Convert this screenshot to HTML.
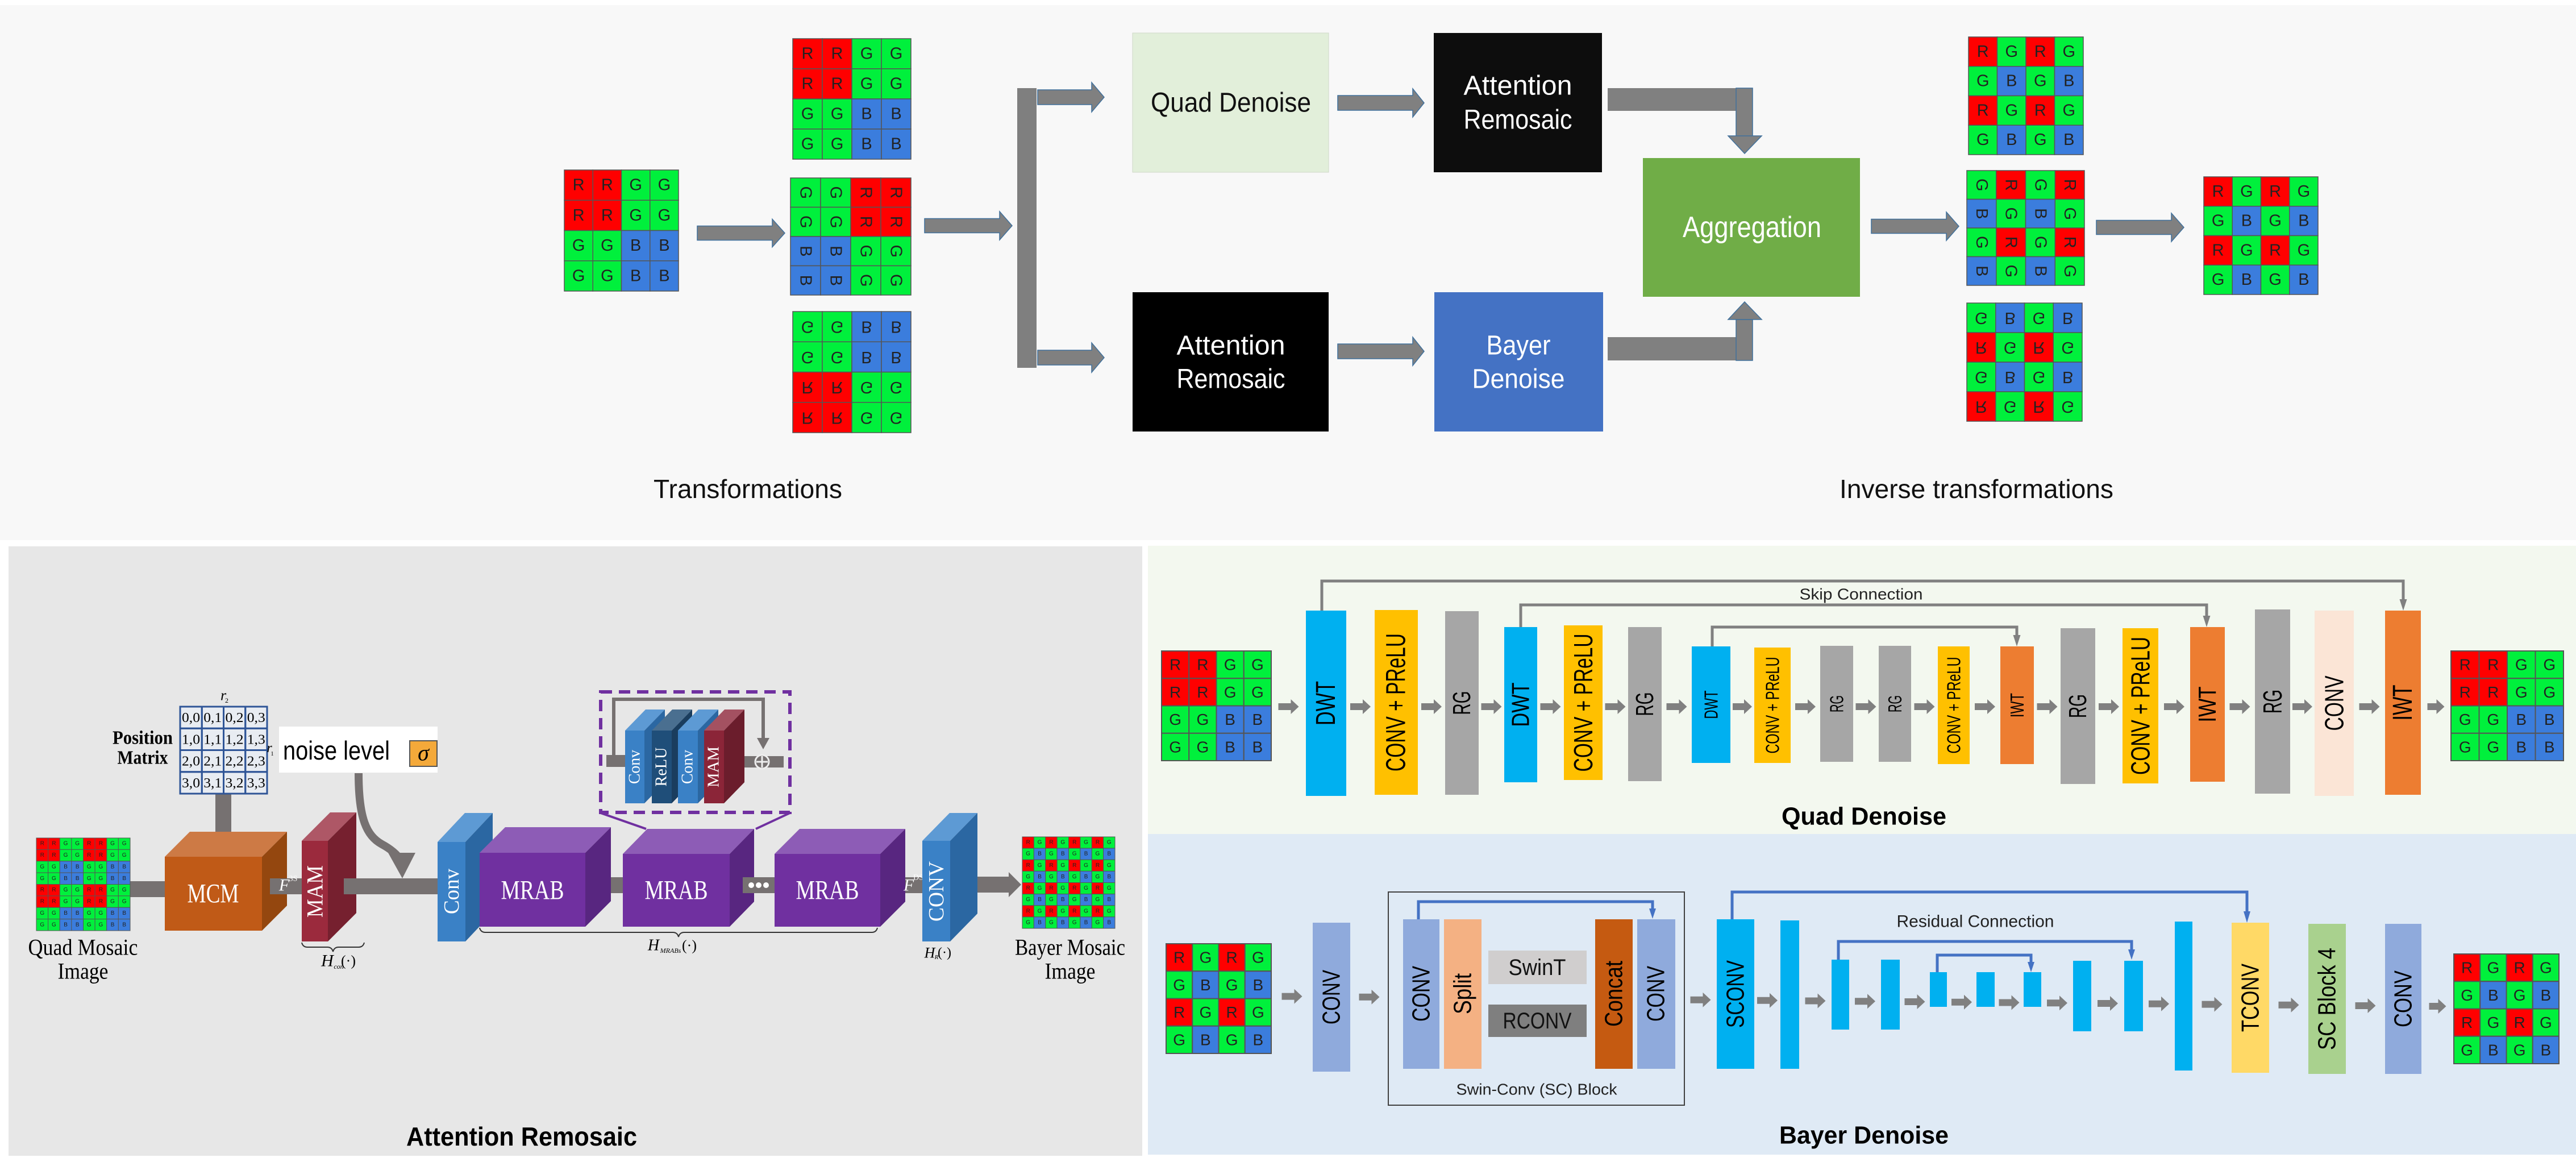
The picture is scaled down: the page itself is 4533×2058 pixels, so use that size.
<!DOCTYPE html>
<html><head><meta charset="utf-8"><style>
html,body{margin:0;padding:0;background:#fff;width:4533px;height:2058px;overflow:hidden}
svg{display:block}
</style></head><body>
<svg id="c" xmlns="http://www.w3.org/2000/svg" width="4533" height="2058" viewBox="0 0 4533 2058"></svg>
<script>
let s='';
const R=(x,y,w,h,f,st,sw)=>{s+=`<rect x="${x}" y="${y}" width="${w}" height="${h}" fill="${f}"${st?` stroke="${st}" stroke-width="${sw}"`:''}/>`;};
const P=(pts,f,st,sw)=>{s+=`<polygon points="${pts}" fill="${f}"${st?` stroke="${st}" stroke-width="${sw}"`:''}/>`;};
const T=(x,y,t,fs,o={})=>{let a=`x="${x}" y="${y}" font-size="${fs}" text-anchor="${o.anchor||'middle'}" dominant-baseline="central" fill="${o.fill||'#000'}" font-family="${o.ff||'Liberation Sans, sans-serif'}"`;
 if(o.w)a+=` textLength="${o.w}" lengthAdjust="spacingAndGlyphs"`; if(o.b)a+=' font-weight="bold"'; if(o.i)a+=' font-style="italic"';
 if(o.rot)a+=` transform="rotate(-90 ${x} ${y})"`; if(o.tr)a+=` transform="${o.tr}"`; s+=`<text ${a}>${t}</text>`;};
const SER='Liberation Serif, serif';
const C={R:'#ff0000',G:'#00f03c',B:'#3b7ddd'};
function grid(x,y,w,h,rows,mode,fs,sw){const n=rows.length,m=rows[0].length,cw=w/m,ch=h/n;
 rows.forEach((r,i)=>[...r].forEach((c,j)=>{const cx=x+j*cw,cy=y+i*ch;R(cx,cy,cw,ch,C[c],'#555',sw||1.5);
  const mx=cx+cw/2,my=cy+ch/2;let tr='';
  if(mode=='rot')tr=`rotate(90 ${mx} ${my})`; if(mode=='flip')tr=`translate(${mx} ${my}) scale(1 -1) translate(${-mx} ${-my})`;
  T(mx,my,c,fs,{fill:'#222',tr:tr||undefined});}));}
function arR(x1,x2,y,sh,hh,hl,f,st){const t=y-sh/2,b=y+sh/2;P(`${x1},${t} ${x2-hl},${t} ${x2-hl},${y-hh/2} ${x2},${y} ${x2-hl},${y+hh/2} ${x2-hl},${b} ${x1},${b}`,f||'#808080',st===undefined?'#41719c':st,1.5);}
// panels
R(0,9,4533,941,'#f8f8f8');
R(15,961,1995,1072,'#e7e7e7');
R(2020,960,2513,507,'#f3f8ef');
R(2020,1467,2513,564,'#dfeaf5');
// ===== TOP PANEL =====
const Q=['RRGG','RRGG','GGBB','GGBB'];
grid(993,299,201,213,Q,'',29);
grid(1395,68,208,212,Q,'',29);
grid(1391,313,212,206,['GGRR','GGRR','BBGG','BBGG'],'rot',29);
grid(1395,548,208,213,['GGBB','GGBB','RRGG','RRGG'],'flip',29);
arR(1227,1381,410,25,49,22);
arR(1627,1781,397,25,50,22);
R(1790,155,34,492,'#7f7f7f');
arR(1826,1943,171,26,52,22);
arR(1826,1943,629,26,52,22);
R(1993,58,345,245,'#e2efda','#cfd8c8',1);
T(2166,181,'Quad Denoise',48,{w:282,fill:'#111'});
R(1993,514,345,245,'#000');
T(2166,608,'Attention',48,{w:191,fill:'#fff'});T(2166,667,'Remosaic',48,{w:191,fill:'#fff'});
arR(2354,2506,181,26,50,20);
arR(2354,2506,618,26,50,20);
R(2523,58,296,245,'#0d0d0d');
T(2671,151,'Attention',48,{w:191,fill:'#fff'});T(2671,211,'Remosaic',48,{w:191,fill:'#fff'});
R(2524,514,297,245,'#4472c4');
T(2672,608,'Bayer',48,{w:113,fill:'#fff'});T(2672,667,'Denoise',48,{w:163,fill:'#fff'});
R(2829,155,255,40,'#808080');R(3055,155,29,85,'#808080','#41719c',1.5);P('3041,239 3100,239 3070,270','#808080','#41719c',1.5);
R(2829,593,255,41,'#808080');R(3055,562,29,72,'#808080','#41719c',1.5);P('3041,562 3100,562 3070,531','#808080','#41719c',1.5);
R(2891,278,382,244,'#70ad47');
T(3083,400,'Aggregation',52,{w:244,fill:'#fff'});
arR(3293,3447,398,25,50,22);
grid(3464,65,202,207,['RGRG','GBGB','RGRG','GBGB'],'',29);
grid(3461,300,207,202,['GRGR','BGBG','GRGR','BGBG'],'rot',29);
grid(3461,533,203,208,['GBGB','RGRG','GBGB','RGRG'],'flip',29);
arR(3689,3843,400,25,50,22);
grid(3878,311,201,207,['RGRG','GBGB','RGRG','GBGB'],'',29);
T(1316,860,'Transformations',46,{w:332,fill:'#111'});
T(3478,860,'Inverse transformations',46,{w:482,fill:'#111'});
// ===== QUAD DENOISE =====
grid(2044,1145,193,193,Q,'',28,2);
grid(4313,1145,198,193,Q,'',28,2);
const blu='#00b0f0',yel='#ffc000',gry='#a6a6a6',org='#ed7d31';
const qd=[[2298,2369,1074,1400,blu,'DWT',48,78],[2419,2495,1073,1398,yel,'CONV + PReLU',48,243],[2543,2602,1075,1398,gry,'RG',44,42],
[2647,2705,1103,1376,blu,'DWT',44,78],[2752,2820,1100,1372,yel,'CONV + PReLU',46,243],[2865,2924,1103,1374,gry,'RG',44,42],
[2977,3045,1137,1342,blu,'DWT',33,50],[3087,3151,1139,1342,yel,'CONV + PReLU',33,170],[3203,3261,1136,1340,gry,'RG',33,30],
[3306,3363,1136,1340,gry,'RG',33,30],[3410,3466,1137,1344,yel,'CONV + PReLU',33,170],[3520,3579,1137,1344,org,'IWT',33,43],
[3626,3687,1105,1379,gry,'RG',44,42],[3735,3798,1105,1378,yel,'CONV + PReLU',46,243],[3854,3915,1103,1375,org,'IWT',44,63],
[3968,4030,1072,1396,gry,'RG',46,42],[4073,4142,1074,1400,'#fbe5d6','CONV',46,97],[4197,4260,1074,1398,org,'IWT',48,63]];
let prev=2237;
qd.forEach(b=>{const g=b[0]-prev;const w=Math.min(g-8,36);if(w>10)arR(prev+(g-w)/2,prev+(g+w)/2,1243,12,26,14,'#808080','');
 R(b[0],b[2],b[1]-b[0],b[3]-b[2],b[4]);T((b[0]+b[1])/2,(b[2]+b[3])/2,b[5],b[6],{w:b[7],rot:1});prev=b[1];});
{const g=4313-prev,w=30;arR(prev+(g-w)/2,prev+(g+w)/2,1243,12,26,14,'#808080','');}
const line=(pts,c,w)=>{s+=`<polyline points="${pts}" fill="none" stroke="${c}" stroke-width="${w}"/>`;};
const hd=(x,y,c,w,h)=>P(`${x-w/2},${y-h} ${x+w/2},${y-h} ${x},${y}`,c);
line('2326,1074 2326,1022 4229,1022 4229,1056','#808080',5);hd(4229,1074,'#808080',13,20);
line('2676,1103 2676,1064 3883,1064 3883,1085','#808080',5);hd(3883,1103,'#808080',13,20);
line('3013,1137 3013,1103 3549,1103 3549,1120','#808080',5);hd(3549,1137,'#808080',13,20);
T(3275,1045,'Skip Connection',28,{w:217,fill:'#222'});
T(3280,1436,'Quad Denoise',44,{w:290,b:1});
// ===== BAYER DENOISE =====
const BY=['RGRG','GBGB','RGRG','GBGB'];
grid(2052,1660,185,193,BY,'',28,2);
grid(4318,1678,185,193,BY,'',28,2);
const cv='#8faadc';
const bd=[[2310,2376,1623,1885,cv,'CONV',44,96],[2443,2964,0,0,null],[3021,3087,1617,1880,blu,'SCONV',44,119],[3133,3166,1619,1880,blu],
[3223,3254,1688,1811,blu],[3310,3343,1688,1811,blu],[3396,3426,1710,1771,blu],[3478,3510,1710,1771,blu],[3561,3592,1710,1771,blu],
[3648,3680,1690,1814,blu],[3738,3771,1690,1814,blu],[3827,3858,1621,1883,blu],[3927,3993,1623,1887,'#ffd966','TCONV',44,120],
[4062,4128,1625,1889,'#a9d18e','SC Block 4',44,180],[4197,4261,1625,1889,cv,'CONV',44,100]];
prev=2237;
bd.forEach(b=>{const g=b[0]-prev;const w=Math.min(g-6,36);const y=1752+(b[0]-2237)/2080*18;if(w>10)arR(prev+(g-w)/2,prev+(g+w)/2,y,12,26,14,'#808080','');
 if(b[4]){R(b[0],b[2],b[1]-b[0],b[3]-b[2],b[4]);if(b[5])T((b[0]+b[1])/2,(b[2]+b[3])/2,b[5],b[6],{w:b[7],rot:1});}prev=b[1];});
{const g=4318-prev,w=30;arR(prev+(g-w)/2,prev+(g+w)/2,1770,12,26,14,'#808080','');}
R(2443,1569,521,375,'none','#404040',2);
R(2469,1617,64,263,cv);T(2501,1748,'CONV',44,{w:98,rot:1});
R(2541,1617,66,263,'#f4b183');T(2574,1748,'Split',44,{w:72,rot:1});
R(2619,1672,173,59,'#d0cece');T(2705,1702,'SwinT',40,{w:101,fill:'#111'});
R(2619,1767,173,57,'#7f7f7f');T(2705,1796,'RCONV',40,{w:121,fill:'#111'});
R(2807,1617,66,263,'#c55a11');T(2840,1748,'Concat',44,{w:116,rot:1});
R(2881,1617,67,263,cv);T(2914,1748,'CONV',44,{w:98,rot:1});
const bl='#4472c4';
line('2496,1617 2496,1586 2908,1586 2908,1600',bl,5);hd(2908,1616,bl,12,18);
line('3048,1617 3048,1569 3954,1569 3954,1605',bl,5);hd(3954,1623,bl,12,20);
line('3235,1688 3235,1656 3751,1656 3751,1672',bl,5);hd(3751,1688,bl,12,18);
line('3409,1710 3409,1680 3574,1680 3574,1694',bl,5);hd(3574,1710,bl,12,18);
T(3476,1621,'Residual Connection',30,{w:277,fill:'#222'});
T(2704,1916,'Swin-Conv (SC) Block',28,{w:283,fill:'#222'});
T(3280,1997,'Bayer Denoise',44,{w:298,b:1});
// ===== ATTENTION REMOSAIC =====
const QM=['RRGGRRGG','RRGGRRGG','GGBBGGBB','GGBBGGBB','RRGGRRGG','RRGGRRGG','GGBBGGBB','GGBBGGBB'];
const BM=[];for(let i=0;i<4;i++){BM.push('RGRGRGRG','GBGBGBGB');}
R(229,1550,61,28,'#767171');
grid(64,1474,165,163,QM,'',10,1);
T(146,1666,'Quad Mosaic',40,{w:193,ff:SER});T(146,1708,'Image',40,{w:89,ff:SER});
function slab(x,y,w,h,dx,dy,fr,tp,sd){P(`${x},${y} ${x+dx},${y-dy} ${x+w+dx},${y-dy} ${x+w},${y}`,tp);P(`${x+w},${y} ${x+w+dx},${y-dy} ${x+w+dx},${y+h-dy} ${x+w},${y+h}`,sd);R(x,y,w,h,fr);}
R(379,1397,28,84,'#767171');
slab(290,1507,171,130,44,44,'#c05a17','#cd7a45','#94470f');
T(375,1572,'MCM',48,{w:91,fill:'#fff',ff:SER});
R(317,1243,153,153,'#e8ecf2');
for(let i=0;i<4;i++)for(let j=0;j<4;j++){R(317+j*38.25,1243+i*38.25,38.25,38.25,'none','#2f5597',3);T(317+j*38.25+19,1243+i*38.25+20,`${i},${j}`,24,{w:32,ff:SER});}
T(393,1223,'r',26,{ff:SER,i:1});T(399,1232,'2',12,{ff:SER});
T(474,1316,'r',24,{ff:SER,i:1});T(479,1326,'1',11,{ff:SER});
T(251,1298,'Position',34,{w:106,ff:SER,b:1});T(251,1333,'Matrix',34,{w:89,ff:SER,b:1});
R(491,1278,279,81,'#fff');
T(498,1320,'noise level',46,{w:188,anchor:'start'});
R(721,1303,48,45,'#f4a93a','#555',2);T(745,1324,'σ',40,{ff:SER,i:1});
R(475,1545,56,28,'#767171');
T(500,1557,'F',30,{ff:SER,i:1,fill:'#fff'});T(516,1546,'3S',14,{ff:SER,fill:'#fff'});
slab(531,1479,46,177,50,50,'#9b2a3d','#ae5766','#76202f');
T(554,1568,'MAM',40,{w:92,fill:'#fff',ff:SER,rot:1});
R(605,1545,168,28,'#767171');
s+=`<path d="M631,1360 C631,1440 645,1470 672,1485 C700,1500 706,1515 707,1515" fill="none" stroke="#767171" stroke-width="14"/>`;
P('683,1500 731,1500 708,1545','#767171');
slab(770,1481,49,175,48,51,'#3a81c6','#5d9ad4','#2b67a2');
T(795,1568,'Conv',38,{w:80,fill:'#fff',ff:SER,rot:1});
R(1054,1543,42,28,'#767171');
slab(844,1500,186,130,45,45,'#7030a0','#8d5cb6','#582680');T(937,1566,'MRAB',48,{w:111,fill:'#fff',ff:SER});
slab(1096,1502,188,128,43,44,'#7030a0','#8d5cb6','#582680');T(1190,1566,'MRAB',48,{w:111,fill:'#fff',ff:SER});
R(1307,1543,56,28,'#767171');
[1322,1335,1348].forEach(x=>{s+=`<circle cx="${x}" cy="1557" r="5" fill="#fff"/>`;});
slab(1363,1502,186,128,44,44,'#7030a0','#8d5cb6','#582680');T(1456,1566,'MRAB',48,{w:111,fill:'#fff',ff:SER});
R(1593,1543,30,28,'#767171');
T(1590,1557,'F',30,{ff:SER,i:1,fill:'#fff',anchor:'start'});T(1616,1544,'DS',14,{ff:SER,fill:'#fff'});
slab(1623,1479,49,177,48,49,'#3a81c6','#5d9ad4','#2b67a2');
T(1648,1568,'CONV',38,{w:106,fill:'#fff',ff:SER,rot:1});
arR(1720,1797,1556,28,44,22,'#767171','');
grid(1799,1472,163,161,BM,'',10,1);
T(1883,1666,'Bayer Mosaic',40,{w:194,ff:SER});T(1883,1708,'Image',40,{w:89,ff:SER});
// braces
s+=`<path d="M531,1658 q2,8 10,8 h35 q8,0 10,8 q2,-8 10,-8 h35 q8,0 10,-8" fill="none" stroke="#333" stroke-width="2"/>`;
T(576,1690,'H',30,{ff:SER,i:1});T(596,1700,'con',12,{ff:SER,i:1});T(613,1690,'(·)',26,{ff:SER});
s+=`<path d="M844,1632 q2,8 10,8 h330 q8,0 10,8 q2,-8 10,-8 h330 q8,0 10,-8" fill="none" stroke="#333" stroke-width="2"/>`;
T(1150,1663,'H',28,{ff:SER,i:1});T(1180,1672,'MRABs',12,{ff:SER,i:1});T(1213,1663,'(·)',26,{ff:SER});
T(1636,1676,'H',26,{ff:SER,i:1});T(1648,1684,'R',11,{ff:SER,i:1});T(1662,1676,'(·)',24,{ff:SER});
// dashed inner box
s+=`<rect x="1057" y="1217" width="333" height="212" fill="none" stroke="#7030a0" stroke-width="6" stroke-dasharray="20,12"/>`;
line('1057,1430 1137,1458','#7030a0',4);line('1390,1430 1330,1458','#7030a0',4);
R(1067,1328,33,21,'#767171');R(1294,1330,85,20,'#767171');
line('1080,1330 1080,1230 1343,1230 1343,1300','#767171',6);P('1332,1298 1354,1298 1343,1318','#767171');
slab(1100,1285,34,128,36,37,'#3a81c6','#5d9ad4','#2b67a2');
slab(1147,1285,35,128,36,37,'#1f4e79','#4a6f90','#1a3d5e');
slab(1193,1285,35,128,36,37,'#3a81c6','#5d9ad4','#2b67a2');
slab(1239,1285,35,128,36,37,'#8b2538','#a45161','#6b1d2c');
T(1117,1349,'Conv',28,{w:60,fill:'#fff',ff:SER,rot:1});
T(1164,1349,'ReLU',28,{w:69,fill:'#fff',ff:SER,rot:1});
T(1210,1349,'Conv',28,{w:60,fill:'#fff',ff:SER,rot:1});
T(1256,1349,'MAM',28,{w:72,fill:'#fff',ff:SER,rot:1});
s+=`<circle cx="1341" cy="1340" r="12" fill="#767171" stroke="#eee" stroke-width="3"/><path d="M1331,1340 h20 M1341,1330 v20" stroke="#eee" stroke-width="3"/>`;
T(918,1999,'Attention Remosaic',46,{w:406,b:1});
document.getElementById('c').innerHTML=s;
</script>
</body></html>
